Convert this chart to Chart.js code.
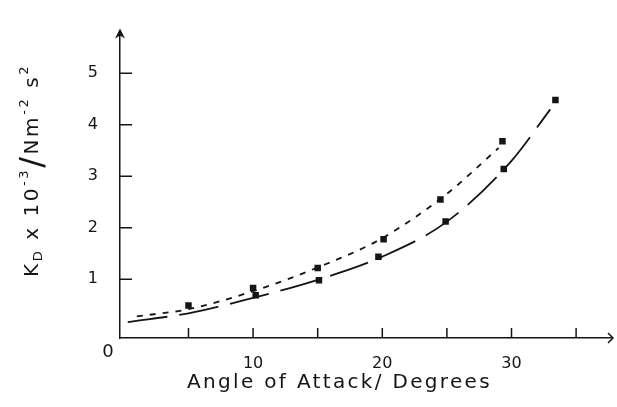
<!DOCTYPE html>
<html>
<head>
<meta charset="utf-8">
<script src="https://cdn.jsdelivr.net/npm/chart.js@4/dist/chart.umd.min.js"></script>
<style>
  html, body { margin: 0; padding: 0; background: #ffffff; }
  #wrap { width: 617px; height: 407px; }
</style>
</head>
<body>
<div id="wrap"><canvas id="c" width="617" height="407"></canvas></div>
<script>
// ---- data ----
const upperX = [5, 10, 15, 20.1, 24.5, 29.3];
const upperY = [0.49, 0.83, 1.22, 1.78, 2.55, 3.68];
const lowerX = [10.2, 15.1, 19.7, 24.9, 29.4, 33.4];
const lowerY = [0.69, 0.98, 1.44, 2.12, 3.14, 4.48];
const upperFitX = [1, 5, 10, 15, 20, 25, 29];
const upperFitY = [0.28, 0.42, 0.77, 1.23, 1.80, 2.66, 3.55];
const lowerFitX = [0.3, 5, 10, 15, 20, 25, 30, 33];
const lowerFitY = [0.17, 0.34, 0.64, 0.99, 1.44, 2.12, 3.30, 4.30];
const xTickValues = [5, 10, 15, 20, 25, 30, 35];
const xLabelValues = [10, 20, 30];
const yTickValues = [1, 2, 3, 4, 5];
const xTitle = 'Angle of Attack/ Degrees';

const pts = (xs, ys) => xs.map((x, i) => ({ x: x, y: ys[i] }));
const INK = '#151515';
const FONT = '"DejaVu Sans", "Liberation Sans", sans-serif';

const decor = {
  id: 'decor',
  afterDraw(chart) {
    const ctx = chart.ctx;
    const xs = chart.scales.x, ys = chart.scales.y;
    const a = chart.chartArea;
    ctx.save();
    ctx.strokeStyle = INK;
    ctx.fillStyle = INK;
    ctx.lineWidth = 1.5;
    // inward tick marks
    ctx.beginPath();
    xTickValues.forEach(v => {
      const px = xs.getPixelForValue(v);
      ctx.moveTo(px, a.bottom); ctx.lineTo(px, a.bottom - 10);
    });
    yTickValues.forEach(v => {
      const py = ys.getPixelForValue(v);
      ctx.moveTo(a.left, py); ctx.lineTo(a.left + 12, py);
    });
    ctx.stroke();
    // y arrow head
    ctx.beginPath();
    ctx.moveTo(a.left, a.top - 3);
    ctx.lineTo(a.left - 5, a.top + 7);
    ctx.lineTo(a.left, a.top + 4);
    ctx.lineTo(a.left + 5, a.top + 7);
    ctx.closePath();
    ctx.fill();
    // x arrow head (open chevron)
    ctx.beginPath();
    ctx.moveTo(a.right - 3, a.bottom - 5);
    ctx.lineTo(a.right + 2, a.bottom);
    ctx.lineTo(a.right - 3, a.bottom + 5);
    ctx.stroke();
    // origin label
    ctx.font = '18px ' + FONT;
    ctx.textAlign = 'center';
    ctx.textBaseline = 'middle';
    ctx.fillText('0', a.left - 12, a.bottom + 14);
    // x title
    ctx.font = '20px ' + FONT;
    ctx.textAlign = 'left';
    ctx.textBaseline = 'alphabetic';
    const w0 = ctx.measureText(xTitle).width;
    const targetW = 305;
    if ('letterSpacing' in ctx) ctx.letterSpacing = Math.max(0, (targetW - w0) / xTitle.length) + 'px';
    ctx.fillText(xTitle, 187, 388);
    if ('letterSpacing' in ctx) ctx.letterSpacing = '0px';
    // y title (rotated, with sub/superscripts)
    const parts = [
      { t: 'K', s: 20, dy: 0 },
      { t: 'D', s: 13, dy: 4 },
      { t: ' x 10', s: 20, dy: 0 },
      { t: '-3', s: 13, dy: -10 },
      { t: '/', s: 32, dy: 4 },
      { t: 'Nm', s: 20, dy: 0 },
      { t: '-2', s: 13, dy: -10 },
      { t: ' s', s: 20, dy: 0 },
      { t: '2', s: 13, dy: -10 }
    ];
    let nat = 0, nChars = 0;
    parts.forEach(p => { ctx.font = p.s + 'px ' + FONT; nat += ctx.measureText(p.t).width; nChars += p.t.length; });
    const yLen = 213;
    const sp = Math.max(0, (yLen - nat) / nChars);
    ctx.translate(38, 277);
    ctx.rotate(-Math.PI / 2);
    let cx = 0;
    parts.forEach(p => {
      ctx.font = p.s + 'px ' + FONT;
      for (const ch of p.t) {
        ctx.fillText(ch, cx, p.dy);
        cx += ctx.measureText(ch).width + sp;
      }
    });
    ctx.restore();
  }
};

new Chart(document.getElementById('c'), {
  type: 'scatter',
  data: {
    datasets: [
      {
        label: 'upper fit',
        data: pts(upperFitX, upperFitY),
        showLine: true,
        borderColor: INK,
        borderWidth: 1.8,
        borderDash: [6, 7],
        pointRadius: 0,
        cubicInterpolationMode: 'monotone',
        fill: false
      },
      {
        label: 'lower fit',
        data: pts(lowerFitX, lowerFitY),
        showLine: true,
        borderColor: INK,
        borderWidth: 1.8,
        borderDash: [40, 12],
        pointRadius: 0,
        cubicInterpolationMode: 'monotone',
        fill: false
      },
      {
        label: 'upper',
        data: pts(upperX, upperY),
        pointStyle: 'rect',
        pointRadius: 4.6,
        backgroundColor: INK,
        borderColor: INK,
        borderWidth: 0
      },
      {
        label: 'lower',
        data: pts(lowerX, lowerY),
        pointStyle: 'rect',
        pointRadius: 4.6,
        backgroundColor: INK,
        borderColor: INK,
        borderWidth: 0
      }
    ]
  },
  options: {
    responsive: false,
    animation: false,
    devicePixelRatio: 1,
    layout: { padding: { top: 9, right: 6, left: 0, bottom: 0 } },
    plugins: { legend: { display: false }, tooltip: { enabled: false } },
    scales: {
      x: {
        type: 'linear',
        min: -0.3,
        max: 37.7,
        afterFit: s => { s.height = 69; },
        afterBuildTicks: s => { s.ticks = xTickValues.map(v => ({ value: v })); },
        grid: { drawOnChartArea: false, drawTicks: false },
        border: { display: true, color: INK, width: 1.5 },
        ticks: {
          padding: 16,
          color: INK,
          font: { family: FONT, size: 16 },
          maxRotation: 0,
          autoSkip: false,
          callback: v => (xLabelValues.includes(v) ? String(v) : '')
        }
      },
      y: {
        type: 'linear',
        min: -0.14,
        max: 5.81,
        afterFit: s => { s.width = 120; },
        afterBuildTicks: s => { s.ticks = yTickValues.map(v => ({ value: v })); },
        grid: { drawOnChartArea: false, drawTicks: false },
        border: { display: true, color: INK, width: 1.5 },
        ticks: {
          padding: 22,
          color: INK,
          font: { family: FONT, size: 16 },
          autoSkip: false,
          callback: v => String(v)
        }
      }
    }
  },
  plugins: [decor]
});
</script>
</body>
</html>
